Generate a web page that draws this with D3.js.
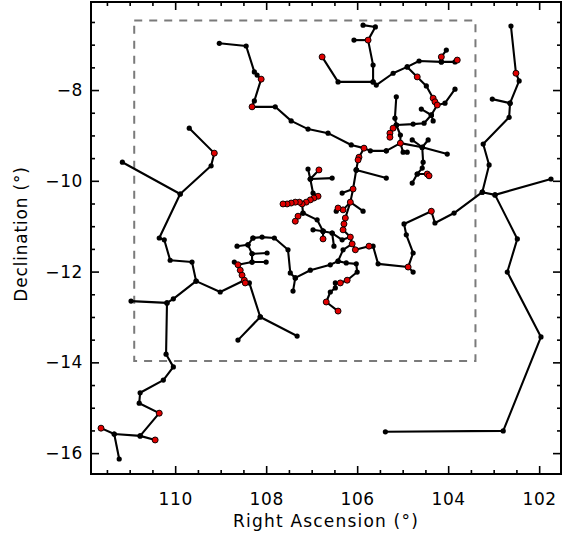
<!DOCTYPE html>
<html><head><meta charset="utf-8">
<script src="https://cdn.jsdelivr.net/npm/d3@7"></script>
<style>
body{margin:0;background:#fff}
svg text{font-family:"DejaVu Sans",sans-serif;fill:#000}
</style>
</head><body>
<svg id="chart" width="563" height="537"></svg>
<script>
// Axis ranges and ticks (degrees)
const raLimits = [111.85, 101.52];
const decLimits = [-16.46, -6.06];
const raMajorTicks = [110, 108, 106, 104, 102];
const decMajorTicks = [-8, -10, -12, -14, -16];
const minorStep = 0.5;

// Survey footprint outline: [RA, Dec] of opposite corners
const footprint = [[110.9, -6.47], [103.4, -13.97]];

// Tree branches, each a polyline of [RA, Dec] nodes
const branches = [
  [[109.03,-6.97],[108.44,-7.03],[108.26,-7.60],[108.20,-7.67],[108.11,-7.76],[108.26,-8.24],[108.31,-8.37],[107.80,-8.37],[107.45,-8.68],[107.08,-8.86],[106.64,-8.95],[106.13,-9.21],[105.85,-9.28],[105.71,-9.34],[105.36,-9.34]],
  [[105.85,-9.28],[105.96,-9.48],[105.98,-9.54],[106.02,-9.76]],
  [[106.02,-9.76],[105.36,-9.94]],
  [[106.02,-9.76],[106.09,-10.18],[106.15,-10.47],[106.26,-10.82],[106.29,-10.95],[106.31,-11.08],[106.15,-11.24],[106.11,-11.39],[106.04,-11.52],[105.74,-11.44],[105.65,-11.44],[105.54,-11.83],[104.88,-11.90],[104.77,-12.01]],
  [[106.09,-10.18],[106.33,-10.27]],
  [[106.15,-10.47],[105.87,-10.67]],
  [[106.15,-10.47],[106.31,-10.64],[106.42,-10.60],[106.46,-10.67]],
  [[104.88,-11.90],[104.77,-11.59],[104.92,-11.19],[104.97,-10.95],[104.37,-10.67],[104.29,-10.93],[103.87,-10.71],[103.25,-10.25]],
  [[102.62,-6.59],[102.51,-7.63],[102.44,-7.80],[102.64,-8.29],[102.66,-8.60],[103.23,-9.19],[103.10,-9.65],[103.25,-10.25],[102.97,-10.31],[101.74,-9.96]],
  [[102.64,-8.29],[103.03,-8.20]],
  [[102.97,-10.31],[102.48,-11.28],[102.70,-12.01],[101.96,-13.44],[102.79,-15.51],[105.38,-15.53]],
  [[105.87,-6.57],[105.60,-6.61],[105.76,-6.90],[105.65,-7.45],[105.65,-7.82],[105.58,-7.89],[105.21,-7.63],[104.90,-7.49],[104.64,-7.36],[104.15,-7.38],[103.85,-7.38],[103.80,-7.34]],
  [[106.07,-6.90],[105.76,-6.90]],
  [[105.65,-7.82],[106.42,-7.82],[106.77,-7.27]],
  [[104.15,-7.38],[104.15,-7.27],[104.04,-7.12]],
  [[104.90,-7.49],[104.68,-7.71],[104.48,-7.91],[104.33,-8.18],[104.29,-8.26],[104.24,-8.33],[104.37,-8.55],[104.33,-8.68]],
  [[104.24,-8.33],[104.07,-8.29],[103.85,-7.98]],
  [[104.37,-8.55],[104.59,-8.42]],
  [[104.37,-8.55],[104.53,-8.73],[104.77,-8.75],[105.14,-8.77],[105.17,-8.62],[105.14,-8.15]],
  [[105.14,-8.77],[105.21,-8.84],[105.28,-8.95],[105.28,-9.04]],
  [[105.14,-8.77],[105.05,-8.99],[105.05,-9.17]],
  [[105.36,-9.34],[105.05,-9.17],[104.57,-9.26],[104.02,-9.41]],
  [[104.57,-9.26],[104.44,-9.10]],
  [[104.57,-9.26],[104.79,-9.10]],
  [[104.57,-9.26],[104.55,-9.59],[104.57,-9.72],[104.68,-9.85],[104.79,-10.05]],
  [[104.68,-9.85],[104.46,-9.85],[104.42,-9.89]],
  [[105.05,-9.17],[104.99,-9.37],[104.90,-9.37]],
  [[109.69,-8.84],[109.14,-9.39],[109.21,-9.67],[109.89,-10.29],[111.16,-9.59]],
  [[109.89,-10.29],[110.35,-11.26],[110.24,-11.30],[110.11,-11.75],[109.63,-11.79],[109.54,-12.21],[109.01,-12.45],[108.48,-12.19]],
  [[109.54,-12.21],[110.04,-12.60],[110.18,-12.69],[110.97,-12.65]],
  [[110.18,-12.69],[110.20,-13.82],[110.04,-14.10],[110.26,-14.39],[110.77,-14.67],[110.79,-14.90],[110.35,-15.12],[110.77,-15.62],[110.44,-15.71]],
  [[110.77,-15.62],[111.34,-15.58],[111.63,-15.45]],
  [[111.34,-15.58],[111.23,-16.13]],
  [[108.29,-11.26],[108.40,-11.41],[108.64,-11.44]],
  [[108.40,-11.41],[108.31,-11.61],[107.98,-11.59]],
  [[108.31,-11.61],[108.31,-11.79],[108.00,-11.79]],
  [[108.31,-11.79],[108.62,-11.85],[108.57,-11.97],[108.53,-12.08],[108.48,-12.19],[108.46,-12.25],[108.37,-12.25],[108.13,-13.00],[108.62,-13.51]],
  [[108.62,-11.85],[108.70,-11.79]],
  [[108.13,-13.00],[107.32,-13.42]],
  [[108.29,-11.26],[108.09,-11.24],[107.82,-11.26],[107.52,-11.52],[107.47,-12.03],[107.36,-12.14],[107.03,-11.97],[106.59,-11.85],[106.42,-11.77],[106.31,-11.52],[106.11,-11.39]],
  [[107.36,-12.14],[107.41,-12.43]],
  [[106.42,-11.77],[106.24,-11.81],[106.02,-11.83],[106.00,-12.01],[106.22,-12.19],[106.37,-12.25],[106.48,-12.25],[106.48,-12.36],[106.59,-12.45],[106.68,-12.67],[106.42,-12.87]],
  [[107.08,-9.74],[107.03,-9.96],[106.55,-9.94]],
  [[106.84,-9.76],[107.03,-9.96]],
  [[107.03,-9.96],[106.97,-10.27],[106.86,-10.34],[106.95,-10.38],[107.03,-10.42],[107.12,-10.47],[107.21,-10.51],[107.27,-10.47],[107.36,-10.47],[107.45,-10.49],[107.54,-10.51],[107.63,-10.51]],
  [[107.21,-10.51],[107.19,-10.71],[107.30,-10.78],[107.36,-10.89]],
  [[107.19,-10.71],[106.88,-10.86],[106.75,-11.11],[106.55,-11.15],[106.33,-11.30],[106.15,-11.24]],
  [[106.75,-11.11],[106.97,-11.08]],
  [[106.75,-11.11],[106.75,-11.28]],
  [[106.55,-11.15],[106.51,-11.44]]
];

// Nodes flagged in red
const redNodes = [
  [108.11,-7.76],[108.31,-8.37],[105.85,-9.28],[105.96,-9.48],[105.98,-9.54],[106.09,-10.18],[106.15,-10.47],
  [106.26,-10.82],[106.29,-10.95],[106.31,-11.08],[106.15,-11.24],[106.11,-11.39],[106.04,-11.52],[105.74,-11.44],
  [104.88,-11.90],[104.37,-10.67],[102.51,-7.63],[105.76,-6.90],[106.77,-7.27],[103.80,-7.34],[104.15,-7.27],
  [104.68,-7.71],[104.33,-8.18],[104.29,-8.26],[104.24,-8.33],[105.21,-8.84],[105.28,-8.95],[105.28,-9.04],
  [105.05,-9.17],[104.46,-9.85],[104.42,-9.89],[109.14,-9.39],[110.35,-15.12],[110.44,-15.71],[111.63,-15.45],
  [108.62,-11.85],[108.57,-11.97],[108.53,-12.08],[108.48,-12.19],[108.46,-12.25],[106.22,-12.19],[106.37,-12.25],
  [106.68,-12.67],[106.42,-12.87],[106.84,-9.76],[106.86,-10.34],[106.95,-10.38],[107.03,-10.42],[107.12,-10.47],
  [107.21,-10.51],[107.27,-10.47],[107.36,-10.47],[107.45,-10.49],[107.54,-10.51],[107.63,-10.51],[107.30,-10.78],
  [107.36,-10.89],[106.75,-11.28],[106.31,-10.64],[106.42,-10.60]
];

const svg = d3.select("#chart");
const plot = {left: 91, top: 2, width: 470, height: 472};

const x = d3.scaleLinear().domain(raLimits).range([plot.left, plot.left + plot.width]);
const y = d3.scaleLinear().domain(decLimits).range([plot.top + plot.height, plot.top]);

const minorRange = (lo, hi) => d3.range(Math.ceil(lo / minorStep) * minorStep, hi + 1e-9, minorStep);
const raMinor = minorRange(d3.min(raLimits), d3.max(raLimits)).filter(v => !raMajorTicks.includes(v));
const decMinor = minorRange(d3.min(decLimits), d3.max(decLimits)).filter(v => !decMajorTicks.includes(v));

const fontSize = 17;

function drawAxis(axisFn, scale, majors, minors, transform, pad, fmt) {
  const gMaj = svg.append("g").attr("transform", transform)
    .call(axisFn(scale).tickValues(majors).tickSize(-8).tickPadding(pad || 0).tickFormat(fmt || ""));
  const gMin = svg.append("g").attr("transform", transform)
    .call(axisFn(scale).tickValues(minors).tickSize(-4).tickFormat(""));
  [gMaj, gMin].forEach(g => {
    g.select(".domain").remove();
    g.selectAll(".tick line").attr("stroke", "#000").attr("stroke-width", 1.6);
  });
  gMaj.selectAll("text").attr("font-size", fontSize).attr("font-family", "DejaVu Sans, sans-serif")
    .attr("fill", "#000").attr("letter-spacing", 0.6);
}

const minus = d => (d < 0 ? "\u2212" : "") + Math.abs(d);
drawAxis(d3.axisBottom, x, raMajorTicks, raMinor, `translate(0,${plot.top + plot.height})`, 19, d => d);
drawAxis(d3.axisTop, x, raMajorTicks, raMinor, `translate(0,${plot.top})`);
drawAxis(d3.axisLeft, y, decMajorTicks, decMinor, `translate(${plot.left},0)`, 8, minus);
drawAxis(d3.axisRight, y, decMajorTicks, decMinor, `translate(${plot.left + plot.width},0)`);

// Frame
svg.append("rect")
  .attr("x", plot.left).attr("y", plot.top)
  .attr("width", plot.width).attr("height", plot.height)
  .attr("fill", "none").attr("stroke", "#000").attr("stroke-width", 2);

// Survey footprint
const [c0, c1] = footprint;
svg.append("rect")
  .attr("x", x(c0[0])).attr("y", y(c0[1]))
  .attr("width", x(c1[0]) - x(c0[0])).attr("height", y(c1[1]) - y(c0[1]))
  .attr("fill", "none").attr("stroke", "#7a7a7a").attr("stroke-width", 2)
  .attr("stroke-dasharray", "8,7");

// Tree edges
const line = d3.line().x(d => x(d[0])).y(d => y(d[1]));
svg.append("g").selectAll("path").data(branches).join("path")
  .attr("d", line).attr("fill", "none").attr("stroke", "#000")
  .attr("stroke-width", 2.1).attr("stroke-linejoin", "round");

// Tree nodes
const nodes = branches.flat();
svg.append("g").selectAll("circle").data(nodes).join("circle")
  .attr("cx", d => x(d[0])).attr("cy", d => y(d[1])).attr("r", 2.6).attr("fill", "#000");

svg.append("g").selectAll("circle").data(redNodes).join("circle")
  .attr("cx", d => x(d[0])).attr("cy", d => y(d[1])).attr("r", 3)
  .attr("fill", "#e00000").attr("stroke", "#000").attr("stroke-width", 0.9);

// Axis titles
svg.append("text").attr("x", plot.left + plot.width / 2).attr("y", 527)
  .attr("text-anchor", "middle").attr("font-size", fontSize).attr("letter-spacing", 1.2)
  .text("Right Ascension (°)");
svg.append("text").attr("transform", `translate(27,${plot.top + plot.height / 2 - 4}) rotate(-90)`)
  .attr("text-anchor", "middle").attr("font-size", fontSize).attr("letter-spacing", 0.8)
  .text("Declination (°)");
</script>
</body></html>
